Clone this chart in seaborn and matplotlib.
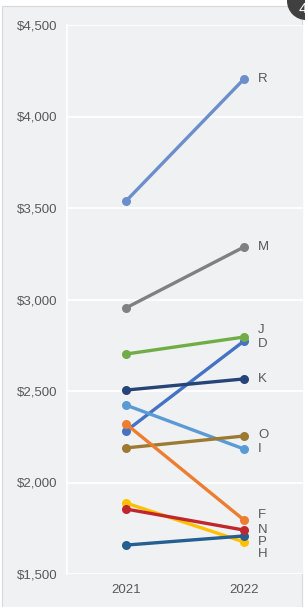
import matplotlib
matplotlib.use("Agg")
import matplotlib.pyplot as plt
import matplotlib.patches as mpatches
from matplotlib.transforms import IdentityTransform
import seaborn as sns
import pandas as pd

# data
years = ["2021", "2022"]
names = ["R", "M", "D", "J", "K", "I", "O", "F", "P", "H", "N"]
v2021 = [3538, 2954, 2281, 2702, 2505, 2423, 2189, 2320, 1888, 1658, 1855]
v2022 = [4205, 3287, 2773, 2795, 2566, 2183, 2254, 1795, 1675, 1708, 1740]
colors = ["#6C8FCB", "#808080", "#4472C4", "#70AD47", "#264478", "#5B9BD5",
          "#9C7A34", "#ED7D31", "#FFC000", "#255E91", "#C0272D"]
yticks = [1500, 2000, 2500, 3000, 3500, 4000, 4500]
# label nudges in points so the end labels don't overlap
label_dy = {"J": 5, "D": -2, "F": 3.5, "N": 0, "P": 0, "H": -13, "O": 0.5, "I": 0}

rows = []
for n, a, b in zip(names, v2021, v2022):
    rows.append({"name": n, "x": 0, "value": a})
    rows.append({"name": n, "x": 1, "value": b})
df = pd.DataFrame(rows)

sns.set_style("white")
plt.rcParams["font.family"] = ["Liberation Sans", "DejaVu Sans"]

bg = "#F0F1F3"
fig = plt.figure(figsize=(3.05, 6.07), dpi=100, facecolor="white")
# chart area panel behind everything
panel = mpatches.Rectangle((2 / 305, -0.01), 300 / 305, 1.01 - 6 / 607,
                           transform=fig.transFigure, facecolor=bg,
                           edgecolor="#D9D9D9", linewidth=0.8, zorder=-10)
fig.patches.append(panel)

ax = fig.add_axes([67 / 305, 33 / 607, 236 / 305, 549 / 607])
ax.set_facecolor(bg)
ax.set_yticks(yticks)
ax.yaxis.grid(True, color="white", linewidth=1.3)
ax.set_axisbelow(True)

sns.lineplot(data=df, x="x", y="value", hue="name", hue_order=names,
             palette=colors, marker="o", markersize=6.5, markeredgewidth=0,
             linewidth=2.4, legend=False, ax=ax)

for n, b in zip(names, v2022):
    ax.annotate(n, (1, b), xytext=(10, label_dy.get(n, 0)), textcoords="offset points",
                va="center", ha="left", fontsize=9.5, color="#595959")

ax.set_xlim(-0.5, 1.5)
ax.set_ylim(1500, 4500)
ax.set_xticks([0, 1])
ax.set_xticklabels(years)
ax.set_yticklabels([f"${v:,}" for v in yticks])
ax.tick_params(axis="both", length=0, labelsize=9.5, colors="#595959")
ax.tick_params(axis="x", pad=7)
ax.tick_params(axis="y", pad=7)
ax.set_xlabel("")
ax.set_ylabel("")
for s in ["top", "right", "bottom"]:
    ax.spines[s].set_visible(False)
ax.spines["left"].set_color("white")
ax.spines["left"].set_linewidth(1.3)

# badge in the corner (pixel coords)
badge = mpatches.Circle((306, 606), 19, transform=IdentityTransform(),
                        facecolor="#404040", edgecolor="none", zorder=5)
fig.patches.append(badge)
fig.text(299 / 305, 1 - 9 / 607, "4", color="white", fontsize=11, ha="left",
         va="center", zorder=6)

fig.savefig("out.png", dpi=100, facecolor="white")
